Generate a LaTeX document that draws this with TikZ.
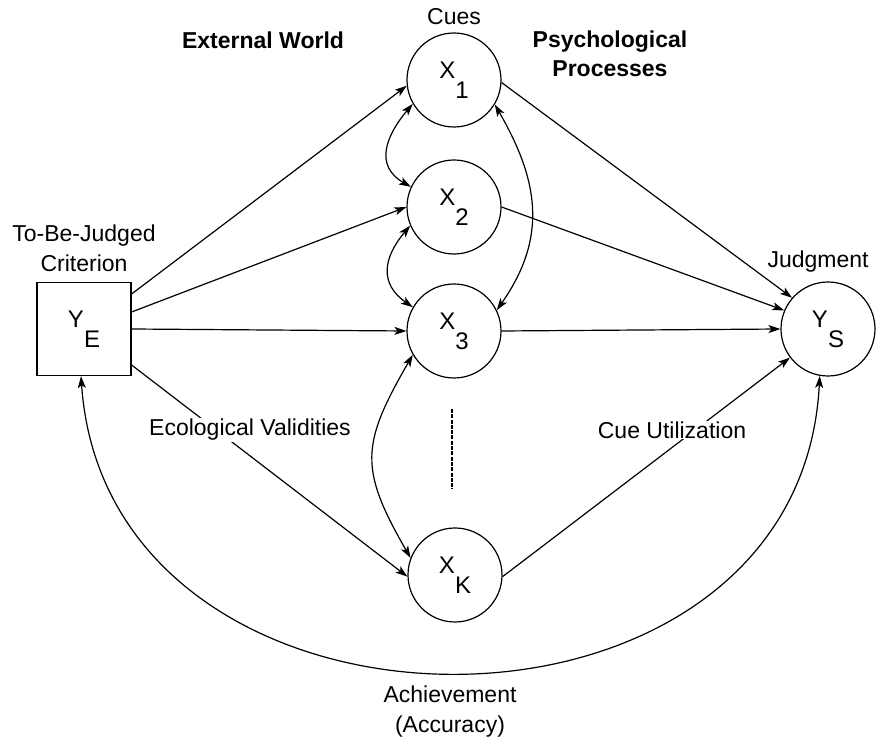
\documentclass[tikz,border=0pt]{standalone}
\usepackage{fontspec}
\setmainfont{Liberation Sans}
\usetikzlibrary{arrows.meta}
\begin{document}
\begin{tikzpicture}[x=1pt,y=1pt,
  tip/.tip={Stealth[length=12pt,width=8pt,inset=3pt]},
  cue/.style={circle,draw,line width=1.2pt,minimum size=94pt,inner sep=0pt,font=\fontsize{24}{28}\selectfont},
  crit/.style={rectangle,draw,line width=1.2pt,minimum width=94pt,minimum height=93pt,inner sep=0pt,font=\fontsize{24}{28}\selectfont},
  lbl/.style={font=\fontsize{23}{30}\selectfont,align=center,inner sep=1pt},
  blbl/.style={font=\bfseries\fontsize{23}{29}\selectfont,align=center,inner sep=1pt},
  conn/.style={line width=1.2pt,-tip},
  biconn/.style={line width=1.2pt,tip-tip},
]
\useasboundingbox (0,0) rectangle (879,742);
\newcommand{\lowered}[1]{\raisebox{-20pt}{#1}}
% nodes
\node[crit] (YE) at (84,413) {Y\lowered{E}};
\node[cue] (X1) at (454,662) {X\lowered{1}};
\node[cue] (X2) at (454,535) {X\lowered{2}};
\node[cue] (X3) at (454,411) {X\lowered{3}};
\node[cue] (XK) at (455,167) {X\lowered{K}};
\node[cue] (YS) at (828,413) {Y\lowered{S}};
% ecological validities
\draw[conn] ([yshift=35pt]YE.east) -- (X1.187);
\draw[conn] ([yshift=17pt]YE.east) -- (X2.west);
\draw[conn] (YE.east) -- (X3.west);
\draw[conn] ([yshift=-36pt]YE.east) -- (XK.182);
% cue utilization
\draw[conn] (X1.357) -- (YS.139);
\draw[conn] (X2.east) -- (YS.157);
\draw[conn] (X3.east) -- (YS.west);
\draw[conn] (XK.358) -- (YS.217);
% intercorrelations
\draw[biconn] (X1.210) to[out=230,in=150,looseness=1.3] (X2.155);
\draw[biconn] (X2.203) to[out=230,in=145,looseness=1.3] (X3.150);
\draw[biconn] (X1.329) to[out=300,in=55,looseness=1.1] (X3.26);
\draw[biconn] (X3.210) to[out=240,in=120,looseness=1.3] (XK.159);
% dashed continuation
\draw[line width=2.2pt,dash pattern=on 4pt off 1.3pt] (452,333) -- (452,253);
% achievement
\draw[biconn] ([xshift=-3pt]YE.south) .. controls (108,-28) and (800,-30) .. (YS.260);
% labels
\node[lbl] (cues) at (454,725) {Cues};
\node[blbl] (ext) at (263,702) {External World};
\node[blbl] (psy) at (610,688) {Psychological\\Processes};
\node[lbl] (crittxt) at (84,494) {To-Be-Judged\\Criterion};
\node[lbl] (judg) at (818,480) {Judgment};
\node[lbl,fill=white] (eco) at (250,312) {Ecological Validities};
\node[lbl,fill=white] (util) at (672,312) {Cue Utilization};
\node[lbl] (ach) at (450,30) {Achievement\\(Accuracy)};
\end{tikzpicture}
\end{document}
